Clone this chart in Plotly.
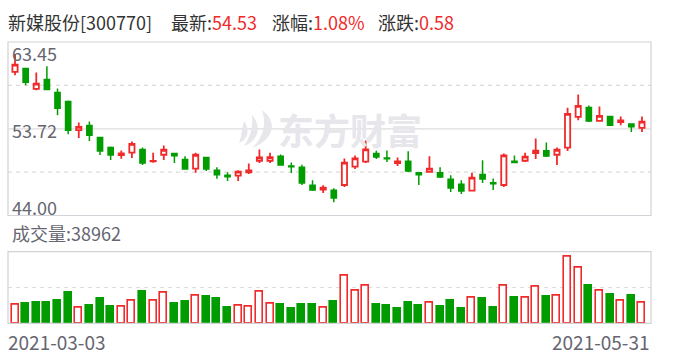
import plotly.graph_objects as go

# ---------------- data ----------------
dates = [
    "2021-03-03", "2021-03-04", "2021-03-05", "2021-03-08", "2021-03-09", "2021-03-10",
    "2021-03-11", "2021-03-12", "2021-03-15", "2021-03-16", "2021-03-17", "2021-03-18",
    "2021-03-19", "2021-03-22", "2021-03-23", "2021-03-24", "2021-03-25", "2021-03-26",
    "2021-03-29", "2021-03-30", "2021-03-31", "2021-04-01", "2021-04-02", "2021-04-06",
    "2021-04-07", "2021-04-08", "2021-04-09", "2021-04-12", "2021-04-13", "2021-04-14",
    "2021-04-15", "2021-04-16", "2021-04-19", "2021-04-20", "2021-04-21", "2021-04-22",
    "2021-04-23", "2021-04-26", "2021-04-27", "2021-04-28", "2021-04-29", "2021-04-30",
    "2021-05-06", "2021-05-07", "2021-05-10", "2021-05-11", "2021-05-12", "2021-05-13",
    "2021-05-14", "2021-05-17", "2021-05-18", "2021-05-19", "2021-05-20", "2021-05-21",
    "2021-05-24", "2021-05-25", "2021-05-26", "2021-05-27", "2021-05-28", "2021-05-31",
]
opens = [
    60.09, 60.47, 58.19, 59.24, 57.78, 56.78, 53.57, 54.09, 52.75, 51.63,
    50.77, 51.04, 51.41, 50.07, 50.81, 50.96, 50.29, 49.25, 50.51, 49.06,
    48.50, 48.46, 48.84, 50.14, 50.14, 50.63, 49.54, 49.40, 47.38, 46.90,
    46.82, 47.42, 49.47, 50.03, 50.96, 50.44, 49.88, 50.07, 48.80, 48.88,
    48.80, 48.05, 47.49, 46.79, 48.61, 47.68, 47.42, 50.07, 50.14, 51.00,
    51.26, 50.81, 51.60, 55.06, 56.11, 54.61, 55.10, 54.47, 54.27, 53.83,
]
highs = [
    62.10, 60.50, 60.02, 60.73, 58.23, 56.89, 54.43, 54.54, 52.75, 51.74,
    51.30, 52.30, 51.63, 51.04, 51.86, 50.96, 50.63, 51.04, 50.51, 49.40,
    48.84, 49.06, 49.84, 51.41, 51.04, 50.85, 49.95, 49.69, 47.94, 47.38,
    47.05, 50.40, 50.74, 52.42, 51.26, 51.30, 50.51, 51.19, 48.80, 50.63,
    49.40, 48.50, 47.94, 48.80, 50.18, 48.16, 50.96, 50.74, 51.04, 52.64,
    52.19, 51.63, 56.07, 57.56, 56.33, 56.22, 55.10, 55.10, 54.27, 55.10,
]
lows = [
    59.72, 58.60, 58.04, 58.04, 55.25, 53.12, 52.68, 52.34, 50.77, 50.22,
    50.36, 50.44, 49.66, 49.92, 50.22, 49.88, 49.21, 48.80, 48.99, 48.13,
    47.87, 47.87, 48.65, 49.88, 49.88, 49.66, 48.76, 47.42, 46.75, 46.52,
    45.48, 47.20, 49.21, 49.88, 50.33, 49.99, 49.54, 48.87, 47.42, 48.88,
    48.20, 46.64, 46.41, 46.79, 47.64, 46.86, 47.20, 49.88, 49.99, 50.33,
    50.55, 49.66, 51.22, 54.69, 54.47, 54.61, 54.02, 54.13, 53.35, 53.35,
]
closes = [
    60.92, 58.94, 58.79, 58.12, 56.03, 53.57, 53.94, 53.01, 51.22, 50.77,
    50.96, 52.04, 49.88, 50.12, 51.37, 50.70, 49.21, 50.81, 49.21, 48.57,
    48.35, 48.91, 49.06, 50.51, 50.55, 49.66, 49.47, 47.64, 46.86, 47.12,
    45.97, 49.92, 50.40, 51.41, 50.55, 50.36, 50.07, 48.99, 48.57, 49.25,
    48.31, 47.08, 46.75, 48.24, 48.09, 47.57, 50.74, 49.95, 50.59, 51.26,
    50.66, 51.37, 55.40, 56.29, 54.58, 55.17, 54.13, 54.65, 53.95, 54.53,
]
volumes = [
    35200, 35800, 38300, 38300, 42000, 56900, 29700, 32100, 45100, 30300,
    31500, 42700, 58700, 42700, 57500, 35800, 40200, 51900, 48800, 45100,
    28400, 33400, 31500, 59300, 37100, 34000, 26600, 34000, 34000, 29700,
    39600, 89000, 60000, 70500, 34000, 32100, 26600, 37700, 32100, 37700,
    30300, 41400, 26600, 48200, 45100, 28400, 70500, 47000, 48200, 68600,
    48800, 51900, 124200, 103900, 69200, 61200, 52500, 41400, 50700, 38962,
]
price_ticks = [63.45, 53.72, 44.00]
vol_max = 132900
stock_name = "新媒股份"
stock_code = "300770"
latest = "54.53"
pct = "1.08%"
chg = "0.58"

# ---------------- style ----------------
RED = "#f02a2a"
GREEN = "#009c00"
GRID = "#dcdcdc"
BORDER = "#d2d2d8"
LABEL = "#666670"
FONT = "Noto Sans CJK SC"

W, H = 688, 360
X0, X1 = 8, 651
P_TOP, P_BOT = 42, 215.5
V_TOP, V_BOT = 251.7, 323.3

vol_up = [closes[i] >= (closes[i - 1] if i > 0 else opens[0]) for i in range(len(closes))]
vol_fill = ["white" if u else GREEN for u in vol_up]
vol_line = [RED if u else GREEN for u in vol_up]

fig = go.Figure()

fig.add_trace(go.Candlestick(
    x=dates, open=opens, high=highs, low=lows, close=closes,
    xaxis="x", yaxis="y",
    increasing=dict(line=dict(color=RED, width=1.8), fillcolor="white"),
    decreasing=dict(line=dict(color=GREEN, width=1.5), fillcolor=GREEN),
    whiskerwidth=0, showlegend=False, hoverinfo="skip",
))

fig.add_trace(go.Bar(
    x=dates, y=volumes, xaxis="x2", yaxis="y2", width=0.66,
    marker=dict(color=vol_fill, line=dict(color=vol_line, width=1.6)),
    showlegend=False, hoverinfo="skip",
))

xrange = [-0.66, len(dates) - 1 + 0.85]
xd = [X0 / W, X1 / W]
fig.update_layout(
    width=W, height=H,
    margin=dict(l=0, r=0, t=0, b=0),
    paper_bgcolor="white", plot_bgcolor="rgba(0,0,0,0)",
    xaxis=dict(domain=xd, type="category", categoryarray=dates, range=xrange,
               visible=False, rangeslider=dict(visible=False), anchor="y"),
    yaxis=dict(domain=[1 - P_BOT / H, 1 - P_TOP / H], range=[price_ticks[2], price_ticks[0]],
               visible=False, anchor="x"),
    xaxis2=dict(domain=xd, type="category", categoryarray=dates, range=xrange,
                visible=False, anchor="y2"),
    yaxis2=dict(domain=[1 - V_BOT / H, 1 - V_TOP / H], range=[0, vol_max],
                visible=False, anchor="x2"),
    # pixel-coordinate overlay for decorations
    xaxis3=dict(domain=[0, 1], range=[0, W], visible=False, anchor="y3", fixedrange=True),
    yaxis3=dict(domain=[0, 1], range=[H, 0], visible=False, anchor="x3", fixedrange=True),
    bargap=0,
)

shapes = []
# watermark logo (light swooshes)
for p in [
    "M 262,110 C 279,123 273,140 252,148 C 263,138 267,124 262,110 Z",
    "M 252,115 C 263,128 257,141 244,146 C 251,136 253,126 252,115 Z",
    "M 244,121 C 251,131 247,140 239,143 C 242,136 242,128 244,121 Z",
]:
    shapes.append(dict(type="path", path=p, xref="x3", yref="y3", fillcolor="#e6e6eb",
                       line=dict(width=0), layer="below"))
# price grid
mid = price_ticks[1]
q1 = (price_ticks[0] + price_ticks[1]) / 2
q3 = (price_ticks[1] + price_ticks[2]) / 2
shapes.append(dict(type="line", xref="paper", yref="y", x0=xd[0], x1=xd[1], y0=mid, y1=mid,
                   line=dict(color=GRID, width=1.2), layer="below"))
for q in (q1, q3):
    shapes.append(dict(type="line", xref="paper", yref="y", x0=xd[0], x1=xd[1], y0=q, y1=q,
                       line=dict(color=GRID, width=1.2, dash="4px,4px"), layer="below"))
shapes.append(dict(type="line", xref="paper", yref="y2", x0=xd[0], x1=xd[1],
                   y0=vol_max / 2, y1=vol_max / 2,
                   line=dict(color=GRID, width=1.2, dash="4px,4px"), layer="below"))
# panel borders
for (t, b) in [(P_TOP, P_BOT), (V_TOP, V_BOT)]:
    shapes.append(dict(type="rect", xref="x3", yref="y3", x0=X0, x1=X1, y0=t, y1=b,
                       line=dict(color=BORDER, width=1.2), fillcolor="rgba(0,0,0,0)"))
fig.update_layout(shapes=shapes)

ann = []
def A(text, x, y, size, color, xanchor="left", **kw):
    ann.append(dict(text=text, x=x, y=y, xref="x3", yref="y3", showarrow=False,
                    xanchor=xanchor, yanchor="middle",
                    font=dict(family=FONT, size=size, color=color), **kw))

# watermark text
A("<b>东方财富</b>", 350, 129, 36, "#e6e6eb", xanchor="center")

# header
HC = "#333333"
A(f"{stock_name}[{stock_code}]", 6, 22, 18, HC)
A(f"最新:<span style='color:{RED}'>{latest}</span>", 169, 22, 18, HC)
A(f"涨幅:<span style='color:{RED}'>{pct}</span>", 270, 22, 18, HC)
A(f"涨跌:<span style='color:{RED}'>{chg}</span>", 376, 22, 18, HC)

# price labels
A(f"{price_ticks[0]:.2f}", 10, 53, 18, LABEL)
A(f"{price_ticks[1]:.2f}", 10, 129.5, 18, LABEL)
A(f"{price_ticks[2]:.2f}", 10, 207, 18, LABEL)

# volume label
A(f"成交量:{volumes[-1]}", 10, 233, 18, LABEL)

# date labels
A(dates[0], 6, 341, 19, LABEL)
A(dates[-1], X1 + 1, 341, 19, LABEL, xanchor="right")

fig.update_layout(annotations=ann)

fig.write_html("out.html")
